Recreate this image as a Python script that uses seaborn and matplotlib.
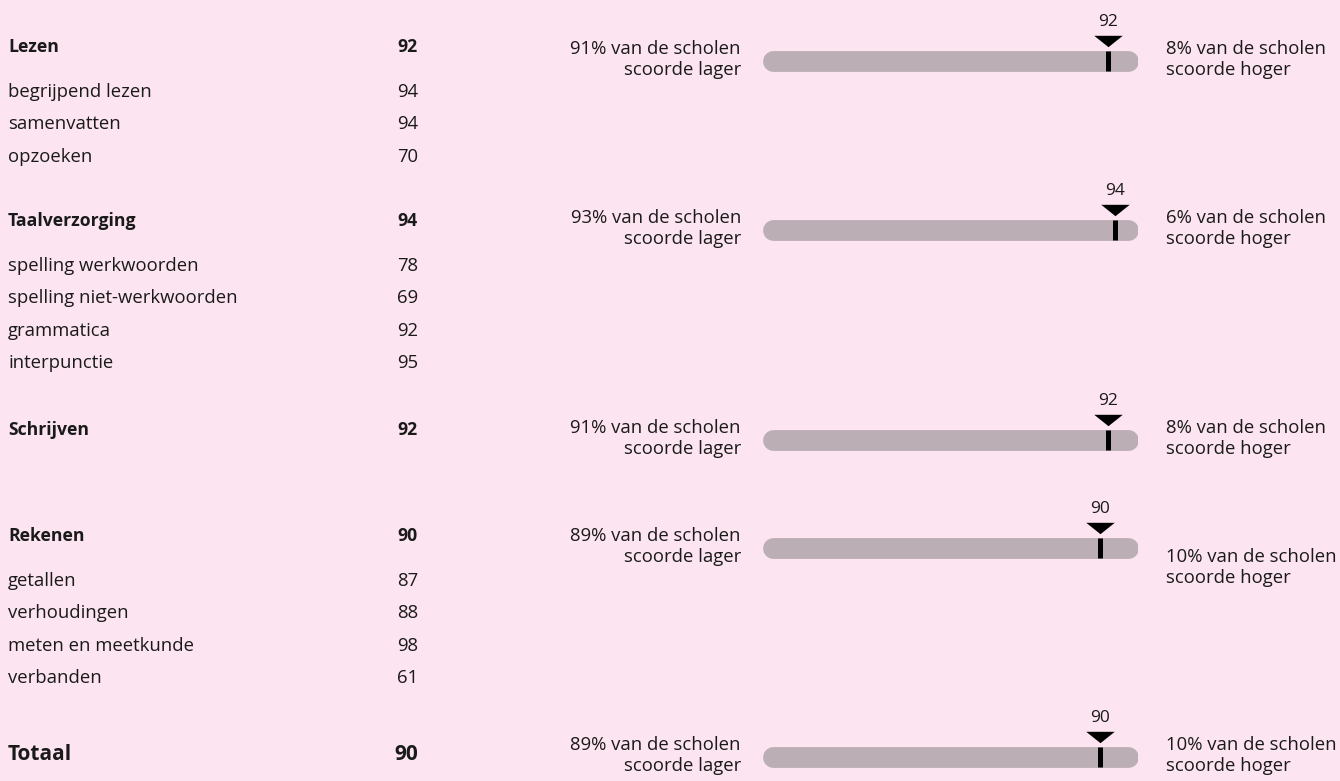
import matplotlib
matplotlib.use("Agg")
import matplotlib.pyplot as plt
import seaborn as sns
import pandas as pd

# ---------------- data ----------------
groups = ["Lezen", "Taalverzorging", "Schrijven", "Rekenen", "Totaal"]
group_scores = [92, 94, 92, 90, 90]
subitems = [
    ["begrijpend lezen", "samenvatten", "opzoeken"],
    ["spelling werkwoorden", "spelling niet-werkwoorden", "grammatica", "interpunctie"],
    [],
    ["getallen", "verhoudingen", "meten en meetkunde", "verbanden"],
    [],
]
sub_scores = [
    [94, 94, 70],
    [78, 69, 92, 95],
    [],
    [87, 88, 98, 61],
    [],
]
pct_lower = [91, 93, 91, 89, 89]
pct_higher = [8, 6, 8, 10, 10]

# ---------------- layout / style ----------------
W, H = 1340, 781
BG = "#fce4f0"
TRACK = "#bcaeb5"
TXT = "#1a1a1a"
header_y = [47, 221, 430, 536, 754]
bar_y = [61, 230, 440, 548, 757]
right_shift = [0, 0, 0, 21, 0]
sub_first, sub_step = 45, 32.3

sns.set_theme(style="white")
plt.rcParams["font.family"] = ["Open Sans", "DejaVu Sans"]

fig = plt.figure(figsize=(W / 100, H / 100), dpi=100, facecolor=BG)
ax = fig.add_axes([0, 0, 1, 1])
ax.set_xlim(0, W)
ax.set_ylim(H, 0)
ax.axis("off")
ax.set_facecolor(BG)

bar_left, bar_w = 762, 376
bx = fig.add_axes([bar_left / W, 0, bar_w / W, 1])
bx.set_xlim(0, 100)
bx.set_ylim(H, 0)
bx.axis("off")
bx.patch.set_alpha(0)

fs = 13.3
fs_bold = 12.7
fs_total = 15
for i, g in enumerate(groups):
    hy = header_y[i]
    big = g == "Totaal"
    hfs = fs_total if big else fs_bold
    ax.text(8, hy, g, fontsize=hfs, fontweight="bold", color=TXT, va="center", ha="left")
    ax.text(418, hy, str(group_scores[i]), fontsize=hfs, fontweight="bold",
            color=TXT, va="center", ha="right")
    for j, (name, sc) in enumerate(zip(subitems[i], sub_scores[i])):
        y = hy + sub_first + j * sub_step
        ax.text(8, y, name, fontsize=fs, color=TXT, va="center", ha="left")
        ax.text(418, y, str(sc), fontsize=fs, color=TXT, va="center", ha="right")

    by = bar_y[i]
    ax.text(741, by - 12, f"{pct_lower[i]}% van de scholen", fontsize=fs, color=TXT, va="center", ha="right")
    ax.text(741, by + 9, "scoorde lager", fontsize=fs, color=TXT, va="center", ha="right")
    ry = by + right_shift[i]
    ax.text(1166, ry - 12, f"{pct_higher[i]}% van de scholen", fontsize=fs, color=TXT, va="center", ha="left")
    ax.text(1166, ry + 9, "scoorde hoger", fontsize=fs, color=TXT, va="center", ha="left")

    # track
    r = 10.5 / bar_w * 100
    bx.plot([r, 100 - r], [by, by], color=TRACK, lw=15, solid_capstyle="round", zorder=1)
    # value tick
    bx.plot([group_scores[i]] * 2, [by - 10, by + 10], color="black", lw=3.6,
            solid_capstyle="butt", zorder=3)
    bx.text(group_scores[i], by - 35, str(group_scores[i]), fontsize=12.5, color=TXT,
            ha="center", va="baseline")

df = pd.DataFrame({"score": group_scores, "y": [b - 20.5 for b in bar_y]})
tri = [(-1, 0.4), (1, 0.4), (0, -0.4)]
sns.scatterplot(data=df, x="score", y="y", marker=tri, s=420, color="black",
                linewidth=0, ax=bx, legend=False, zorder=4)
bx.set_xlim(0, 100)
bx.set_ylim(H, 0)
bx.axis("off")

fig.savefig("out.png", dpi=100, facecolor=BG)
